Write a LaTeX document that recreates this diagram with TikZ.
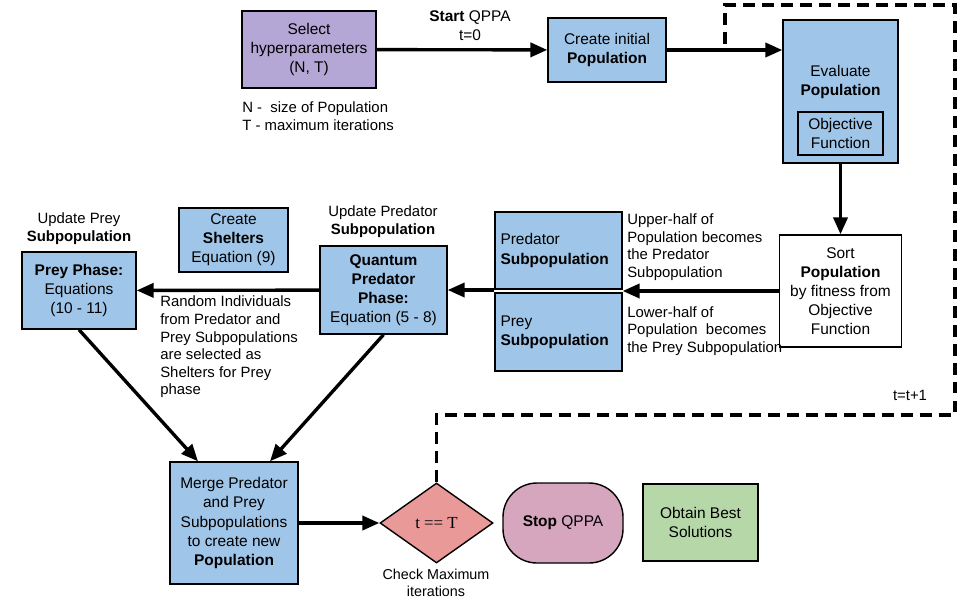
\documentclass[tikz,border=0pt]{standalone}
\usepackage{fontspec}
\setmainfont{Liberation Sans}
\newfontfamily\serifont{Liberation Serif}
\usetikzlibrary{arrows.meta,shapes.geometric}
\definecolor{boxblue}{HTML}{9FC5E8}
\definecolor{boxpurple}{HTML}{B4A7D6}
\definecolor{boxred}{HTML}{EA9999}
\definecolor{boxpink}{HTML}{D5A6BD}
\definecolor{boxgreen}{HTML}{B6D7A8}

\begin{document}
\begin{tikzpicture}[
	font=\fontsize{11}{13.6}\selectfont,
	box/.style={draw, line width=1pt, align=center, inner sep=2pt},
	bluebox/.style={box, fill=boxblue},
	subbox/.style={bluebox, text width=2.9cm, align=left, minimum width=3.175cm},
	note/.style={align=left, inner sep=0pt, font=\fontsize{10.6}{12.5}\selectfont},
	arr/.style={line width=2.4pt, -{Triangle[length=12pt,width=10pt]}},
	loopline/.style={line width=2.3pt, dash pattern=on 8.5pt off 5pt}
	]
	\useasboundingbox (0,0) rectangle (24,-15);
	
	\node [box, fill=boxpurple, minimum width=3.35cm, minimum height=1.925cm] (1) at (7.725,-1.2375) {Select\\hyperparameters\\(N, T)};
	\node [bluebox, minimum width=2.95cm, minimum height=1.6cm] (2) at (15.175,-1.25) {Create initial\\\textbf{Population}};
	\node [bluebox, minimum width=2.875cm, minimum height=3.575cm] (3) at (21.0125,-2.2875) {};
	\node [align=center] (3a) at (21.0125,-2.05) {Evaluate\\\textbf{Population}};
	\node [box, minimum width=2.125cm, minimum height=1.075cm] (4) at (21.0125,-3.3375) {Objective\\Function};
	\node [box, fill=white, minimum width=3.05cm, minimum height=2.8cm] (5) at (21.0125,-7.275) {Sort\\\textbf{Population}\\by fitness from\\Objective\\Function};
	\node [subbox, minimum height=1.925cm] (6) at (13.9625,-6.2625) {Predator\\\textbf{Subpopulation}};
	\node [subbox, minimum height=1.95cm] (7) at (13.9625,-8.3) {Prey\\\textbf{Subpopulation}};
	\node [bluebox, minimum width=3.175cm, minimum height=2.2cm] (8) at (9.5875,-7.25) {\textbf{Quantum}\\\textbf{Predator}\\\textbf{Phase:}\\Equation (5 - 8)};
	\node [bluebox, minimum width=2.725cm, minimum height=1.6cm] (9) at (5.8375,-6.0) {Create\\\textbf{Shelters}\\Equation (9)};
	\node [bluebox, minimum width=2.85cm, minimum height=1.925cm] (10) at (1.975,-7.2625) {\textbf{Prey Phase:}\\Equations\\(10 - 11)};
	\node [bluebox, minimum width=3.2cm, minimum height=3.05cm] (11) at (5.85,-13.075) {Merge Predator\\and Prey\\Subpopulations\\to create new\\\textbf{Population}};
	\node [box, diamond, aspect=1.41, fill=boxred, minimum width=2.825cm, minimum height=2cm, inner sep=1pt, font=\serifont\fontsize{12}{13}\selectfont] (12) at (10.9125,-13.075) {t == T};
	\node [box, fill=boxpink, rounded corners=0.85cm, minimum width=3cm, minimum height=2cm] (13) at (14.075,-13.075) {\textbf{Stop} QPPA};
	\node [box, fill=boxgreen, minimum width=2.875cm, minimum height=1.925cm] (14) at (17.5125,-13.0625) {Obtain Best\\Solutions};
	
	\node [align=center] (15) at (11.75,-0.65) {\textbf{Start} QPPA\\t=0};
	\node [note, anchor=west] (16) at (6.05,-2.9) {N - \ size of Population\\T - maximum iterations};
	\node [align=center, font=\fontsize{10.6}{12.8}\selectfont] (17) at (9.575,-5.55) {Update Predator\\\textbf{Subpopulation}};
	\node [align=center, font=\fontsize{10.6}{12.8}\selectfont] (18) at (1.975,-5.725) {Update Prey\\\textbf{Subpopulation}};
	\node [note, anchor=west] (19) at (4.0,-8.675) {Random Individuals\\from Predator and\\Prey Subpopulations\\are selected as\\Shelters for Prey\\phase};
	\node [note, anchor=west] (20) at (15.675,-6.175) {Upper-half of\\Population becomes\\the Predator\\Subpopulation};
	\node [note, anchor=west] (21) at (15.675,-8.275) {Lower-half of\\Population \ becomes\\the Prey Subpopulation};
	\node [note] (22) at (22.75,-9.875) {t=t+1};
	\node [align=center, font=\fontsize{10.2}{12}\selectfont] (23) at (10.9,-14.575) {Check Maximum\\iterations};
	\coordinate (c) at (18.125,-1.25);
	
	\path [arr]
	(1) edge (2)
	(2.east) edge (3.west |- 2.east)
	(3) edge (5)
	(5.west) edge (6.east |- 5.west)
	(8.east -| 6.west) edge (8.east)
	(8) edge (10)
	(10.south) edge ([xshift=-0.9cm]11.north)
	(8.south) edge ([xshift=0.9cm]11.north)
	(11) edge (12);
	
	\draw [loopline] (12.north) |- (23.875,-10.375) |- (18.125,-0.125) -- (c);
\end{tikzpicture}
\end{document}
